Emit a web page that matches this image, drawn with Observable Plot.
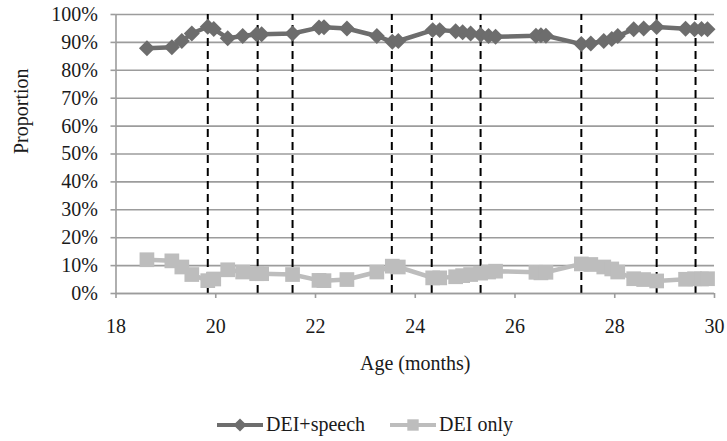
<!DOCTYPE html>
<html>
<head>
<meta charset="utf-8">
<script src="https://cdn.jsdelivr.net/npm/d3@7"></script>
<script src="https://cdn.jsdelivr.net/npm/@observablehq/plot@0.6"></script>
<style>
  body { margin: 0; background: #fff; font-family: "Liberation Serif", "DejaVu Serif", serif; color: #1a1a1a; }
  #chart svg text { font-family: "Liberation Serif", "DejaVu Serif", serif !important; font-size: 20px; }
  #legend { height: 41px; display: flex; align-items: center; justify-content: center; padding-top: 8px; padding-left: 3px; box-sizing: border-box; font-size: 20px; font-family: "Liberation Serif", "DejaVu Serif", serif !important; }
  #legend span { font-family: "Liberation Serif", "DejaVu Serif", serif !important; }
  .item { display: flex; align-items: center; }
  .item + .item { margin-left: 25px; }
  .item svg { margin-right: 3px; }
</style>
</head>
<body>
<div id="chart"></div>
<div id="legend"></div>
<script>
// Age in months of each session
const ages = [18.62, 19.12, 19.32, 19.52, 19.84, 19.96, 20.24, 20.54, 20.82, 20.92,
              21.54, 22.07, 22.17, 22.63, 23.23, 23.54, 23.66, 24.35, 24.49, 24.81,
              24.95, 25.11, 25.31, 25.47, 25.61, 26.42, 26.52, 26.62, 27.33, 27.52,
              27.78, 27.94, 28.06, 28.38, 28.58, 28.84, 29.42, 29.60, 29.74, 29.86];
// Proportion (%) DEI+speech
const deiSpeech = [87.9, 88.3, 90.5, 93.2, 95.6, 94.8, 91.5, 92.3, 92.9, 92.9,
                   93.2, 95.3, 95.4, 95.0, 92.3, 90.2, 90.5, 94.4, 94.4, 94.0,
                   93.6, 93.2, 92.7, 92.3, 92.0, 92.4, 92.6, 92.4, 89.4, 89.6,
                   90.5, 91.2, 92.3, 94.7, 95.0, 95.5, 94.9, 94.7, 94.8, 94.7];
// Proportion (%) DEI only
const deiOnly = [12.1, 11.7, 9.5, 6.8, 4.6, 5.2, 8.5, 7.7, 7.1, 7.1,
                 6.8, 4.7, 4.6, 5.0, 7.7, 9.8, 9.5, 5.6, 5.6, 6.0,
                 6.4, 6.8, 7.3, 7.7, 8.0, 7.6, 7.4, 7.6, 10.6, 10.4,
                 9.5, 8.8, 7.7, 5.3, 5.0, 4.5, 5.1, 5.3, 5.2, 5.3];
// Dashed vertical reference lines (months)
const markerAges = [19.84, 20.84, 21.54, 23.53, 24.33, 25.31, 27.33, 28.84, 29.62];
const xTicks = [18, 20, 22, 24, 26, 28, 30];
const yTicks = [0, 0.1, 0.2, 0.3, 0.4, 0.5, 0.6, 0.7, 0.8, 0.9, 1];
const seriesNames = ["DEI+speech", "DEI only"];
const seriesColors = ["#6d6d6d", "#bdbdbd"];
const seriesSymbols = ["diamond2", "square"];
const xLabel = "Age (months)";
const yLabel = "Proportion";

const gridColor = "#9c9c9c";
const font = "'Liberation Serif', 'DejaVu Serif', serif";

const data = ages.flatMap((a, i) => [
  {age: a, value: deiSpeech[i] / 100, series: seriesNames[0]},
  {age: a, value: deiOnly[i] / 100, series: seriesNames[1]}
]);

const chart = Plot.plot({
  width: 727,
  height: 400,
  marginLeft: 115.5,
  marginRight: 13,
  marginTop: 14,
  marginBottom: 107,
  style: {fontFamily: font, fontSize: "20px", color: "#1a1a1a", background: "#fff"},
  x: {domain: [18, 30]},
  y: {domain: [0, 1]},
  color: {domain: seriesNames, range: seriesColors},
  symbol: {domain: seriesNames, range: seriesSymbols},
  marks: [
    Plot.gridY(yTicks, {stroke: gridColor, strokeOpacity: 1, strokeWidth: 1.6}),
    Plot.ruleX(markerAges, {y1: 0, y2: 1, stroke: "#000", strokeWidth: 2, strokeDasharray: "8,5"}),
    Plot.ruleX([18], {stroke: gridColor, strokeWidth: 1.6}),
    Plot.ruleY([0], {stroke: gridColor, strokeWidth: 1.6}),
    Plot.axisY(yTicks, {tickSize: 5, tickPadding: 13, tickFormat: d3.format(".0%"), stroke: gridColor, strokeWidth: 1.6, fill: "#1a1a1a", label: null, fontVariant: "normal"}),
    Plot.axisX(xTicks, {tickSize: 5, tickPadding: 20, tickFormat: d => d, stroke: gridColor, strokeWidth: 1.6, fill: "#1a1a1a", label: null, fontVariant: "normal"}),
    Plot.line(data, {x: "age", y: "value", z: "series", stroke: "series", strokeWidth: 4.5}),
    Plot.dot(data.filter(d => d.series === seriesNames[0]), {x: "age", y: "value", symbol: "series", fill: "series", r: 7.2}),
    Plot.dot(data.filter(d => d.series === seriesNames[1]), {x: "age", y: "value", symbol: "series", fill: "series", r: 8.3}),
    Plot.text([yLabel], {text: d => d, frameAnchor: "left", dx: -94, rotate: -90, fill: "#1a1a1a"}),
    Plot.text([xLabel], {text: d => d, frameAnchor: "bottom", dy: 76, fill: "#1a1a1a"})
  ]
});
document.getElementById("chart").appendChild(chart);

// Legend
const legend = d3.select("#legend");
seriesNames.forEach((name, i) => {
  const item = legend.append("div").attr("class", "item");
  const svg = item.append("svg").attr("width", 46).attr("height", 16);
  svg.append("line").attr("x1", 0).attr("x2", 46).attr("y1", 8).attr("y2", 8)
    .attr("stroke", seriesColors[i]).attr("stroke-width", 4);
  const sym = seriesSymbols[i] === "diamond2" ? d3.symbolDiamond2 : d3.symbolSquare;
  const size = seriesSymbols[i] === "diamond2" ? 110 : 130;
  svg.append("path").attr("transform", "translate(23,8)")
    .attr("d", d3.symbol(sym, size)()).attr("fill", seriesColors[i]);
  item.append("span").text(name);
});
</script>
</body>
</html>
